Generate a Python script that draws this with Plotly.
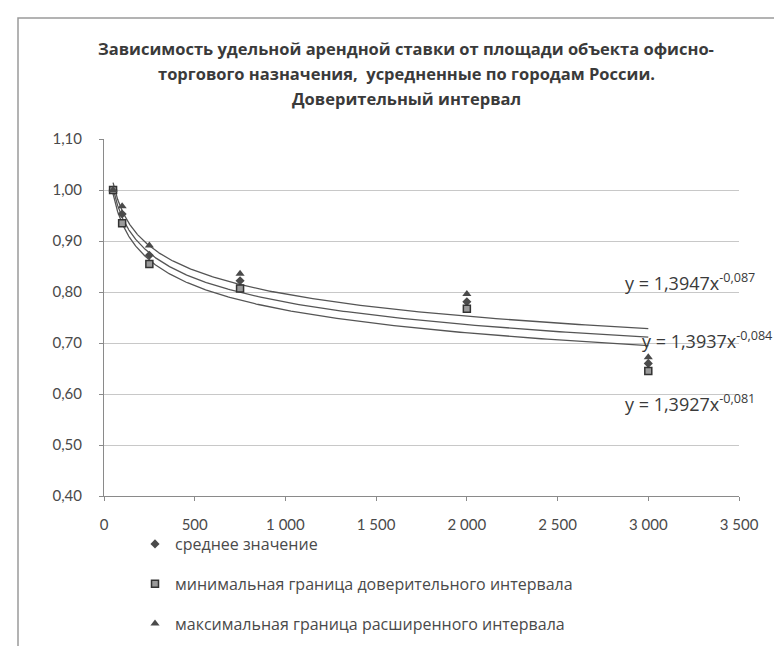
import numpy as np
import plotly.graph_objects as go

# ---- data ----
area = [50, 100, 250, 750, 2000, 3000]
mean_vals = [1.00, 0.953, 0.872, 0.822, 0.781, 0.660]
min_vals = [1.00, 0.935, 0.855, 0.807, 0.767, 0.645]
max_vals = [1.00, 0.968, 0.891, 0.836, 0.796, 0.672]

series_names = ["среднее значение",
                "минимальная граница доверительного интервала",
                "максимальная граница расширенного интервала"]

# power trend lines as printed on the chart: y = a * x^b
trend_a = [1.3947, 1.3937, 1.3927]
trend_b = [-0.087, -0.084, -0.081]
trend_labels = ["y = 1,3947x<sup>-0,087</sup>",
                "y = 1,3937x<sup>-0,084</sup>",
                "y = 1,3927x<sup>-0,081</sup>"]

x_tickvals = [0, 500, 1000, 1500, 2000, 2500, 3000, 3500]
x_ticktext = ["0", "500", "1 000", "1 500", "2 000", "2 500", "3 000", "3 500"]
y_tickvals = [0.4, 0.5, 0.6, 0.7, 0.8, 0.9, 1.0, 1.1]
y_ticktext = ["0,40", "0,50", "0,60", "0,70", "0,80", "0,90", "1,00", "1,10"]

title_lines = ["Зависимость удельной арендной ставки от площади объекта офисно-",
               "торгового назначения,  усредненные по городам России.",
               "Доверительный интервал"]

FONT = "Open Sans"
TICKFONT = "Lato"
TXT = "#3a3a3a"

fig = go.Figure()

# trend lines
xs = np.geomspace(min(area), max(area), 300)
for a, b in zip(trend_a, trend_b):
    fig.add_trace(go.Scatter(x=xs, y=a * xs ** b, mode="lines",
                             line=dict(color="#555555", width=1.3),
                             showlegend=False, hoverinfo="skip"))

# markers
fig.add_trace(go.Scatter(x=area, y=mean_vals, mode="markers", name=series_names[0],
                         legendgroup="g1",
                         marker=dict(symbol="diamond", size=7, color="#4a4a4a")))
fig.add_trace(go.Scatter(x=area, y=min_vals, mode="markers", name=series_names[1],
                         legendgroup="g2",
                         marker=dict(symbol="square", size=7, color="#9a9a9a",
                                     line=dict(color="#333333", width=1.5))))
fig.add_trace(go.Scatter(x=area, y=max_vals, mode="markers", name=series_names[2],
                         legendgroup="g3",
                         marker=dict(symbol="triangle-up", size=8, color="#4a4a4a")))

# layout geometry (pixels)
L, R, T, B = 96, 51, 131, 158
W, H = 782, 646
pw, ph = W - L - R, H - T - B

def px_to_paper(px, py):
    return (px - L) / pw, (H - B - py) / ph

for line, py in zip(title_lines, [40, 65, 91]):
    xp, yp = px_to_paper(398, py)
    fig.add_annotation(text="<b>" + line + "</b>", x=xp, y=yp, xref="paper", yref="paper",
                       xanchor="center", yanchor="middle", showarrow=False,
                       font=dict(family=FONT, size=16.5, color=TXT))

# trend labels
label_pos = [(2862, 0.820), (2954, 0.705), (2862, 0.582)]
for txt, (lx, ly) in zip(trend_labels, label_pos):
    fig.add_annotation(text=txt, x=lx, y=ly, xref="x", yref="y",
                       xanchor="left", yanchor="middle", showarrow=False,
                       font=dict(family=FONT, size=18, color=TXT))

# chart frame
x0, y0 = px_to_paper(10, 10)
x1, y1 = px_to_paper(778, 700)
fig.add_shape(type="rect", xref="paper", yref="paper", x0=x0, y0=y1, x1=x1, y1=y0,
              line=dict(color="#9a9a9a", width=1.5), layer="below")

axis_common = dict(showline=True, linecolor="#8a8a8a", linewidth=1,
                   gridcolor="#c8c8c8", gridwidth=1, zeroline=False,
                   ticks="outside", tickcolor="#8a8a8a", ticklen=4, automargin=False,
                   tickfont=dict(family=TICKFONT, size=15, color="#4a4a4a"))

fig.update_xaxes(range=[0, 3500], tickvals=x_tickvals, ticktext=x_ticktext,
                 showgrid=False, ticklabelstandoff=11, **axis_common)
fig.update_yaxes(range=[0.4, 1.1], tickvals=y_tickvals, ticktext=y_ticktext,
                 showgrid=True, ticklabelstandoff=14, **axis_common)

lx, ly = px_to_paper(127, 519)
fig.update_layout(
    width=W, height=H,
    margin=dict(l=L, r=R, t=T, b=B, autoexpand=False),
    paper_bgcolor="white", plot_bgcolor="white",
    showlegend=True,
    legend=dict(x=lx, y=ly, xanchor="left", yanchor="top", orientation="v",
                tracegroupgap=16, itemwidth=30,
                font=dict(family=FONT, size=16, color="#4a4a4a"),
                bgcolor="rgba(0,0,0,0)"),
)

fig.write_html("out.html")
